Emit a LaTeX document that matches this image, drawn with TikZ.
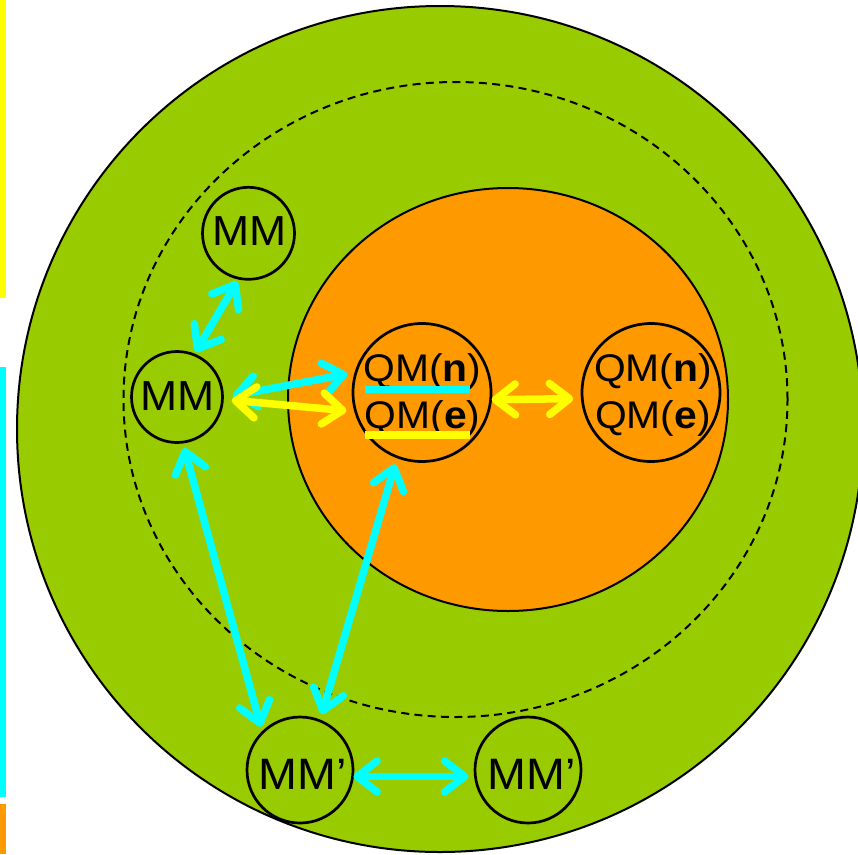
\documentclass[tikz,border=0pt]{standalone}
\usepackage{fontspec}
\setmainfont{Liberation Sans}[FakeStretch=1.06]
\usetikzlibrary{arrows.meta}
\definecolor{ringgreen}{HTML}{99CC00}
\definecolor{coreorange}{HTML}{FF9900}
\definecolor{cy}{HTML}{00FFFF}
\definecolor{ye}{HTML}{FFFF00}
\begin{document}
\begin{tikzpicture}[x=1pt,y=-1pt,
  mol/.style={circle,draw=black,line width=2.7pt,minimum size=#1,inner sep=0pt,outer sep=0pt},
  lbl/.style={anchor=base,inner sep=0pt,font=\fontsize{42}{48}\selectfont},
  qlbl/.style={anchor=base,inner sep=0pt,font=\fontsize{38.5}{45}\selectfont},
  plbl/.style={anchor=base,inner sep=0pt,font=\fontsize{44}{50}\selectfont},
  link/.style={line width=7.5pt,{Straight Barb[length=20pt,width=31pt,round]}-{Straight Barb[length=20pt,width=31pt,round]}}
]
\useasboundingbox (0,0) rectangle (858,854);
% side bars
\fill[ye] (0,0) rectangle (5.7,297.7);
\fill[cy] (0,366.7) rectangle (5.7,796.7);
\fill[coreorange] (0,804.3) rectangle (5.7,854);
% big rings
\draw[fill=ringgreen,line width=2pt] (440,429) circle [radius=423pt];
\draw[line width=2pt,dash pattern=on 8pt off 5.3pt] (455.5,399.5) ellipse [x radius=332pt,y radius=317.5pt];
\draw[fill=coreorange,line width=2pt] (508,399.5) ellipse [x radius=220pt,y radius=211.5pt];
% molecule circles
\node[mol=92pt] (mmT) at (248.5,233.3) {};
\node[mol=91pt] (mmL) at (177,397) {};
\node[mol=138pt] (qmA) at (422,392.5) {};
\node[mol=138pt] (qmB) at (651,392.5) {};
\node[mol=106pt] (mpA) at (300,770) {};
\node[mol=106pt] (mpB) at (528,770) {};
% labels
\node[lbl] (tMmT) at (249.5,245) {MM};
\node[lbl] (tMmL) at (177.8,410) {MM};
\node[qlbl] (tQaN) at (422.5,381) {QM(\textbf{n})};
\node[qlbl] (tQaE) at (422.5,428.3) {QM(\textbf{e})};
\node[qlbl] (tQbN) at (653,381) {QM(\textbf{n})};
\node[qlbl] (tQbE) at (653,428.3) {QM(\textbf{e})};
\node[plbl] (tMpA) at (302.5,789.3) {MM’};
\node[plbl] (tMpB) at (531.7,789.3) {MM’};
% underlines
\fill[cy] (365,386) rectangle (470,393);
\fill[ye] (365,431) rectangle (470,438.5);
% connectors
\draw[link,cy,shorten <=3.2pt,shorten >=3.5pt] (mmL.68) -- (mmT.258);
\draw[link,cy,shorten <=10.5pt,shorten >=8.7pt] (mmL.-1) -- (qmA.163.5);
\draw[link,cy,shorten <=6pt,shorten >=6pt] (mmL.-83) -- (mpA.135);
\draw[link,cy,shorten <=7.6pt,shorten >=7pt] (qmA.-111) -- (mpA.68.6);
\draw[link,cy,shorten <=0.8pt,shorten >=7pt] (mpA.-7.8) -- (mpB.187);
\draw[link,ye,shorten <=9.3pt,shorten >=9.3pt] (mmL.-3.7) -- (qmA.196);
\draw[link,ye,shorten <=1pt,shorten >=9pt] (qmA.-6.1) -- (qmB.185.5);
\end{tikzpicture}
\end{document}
